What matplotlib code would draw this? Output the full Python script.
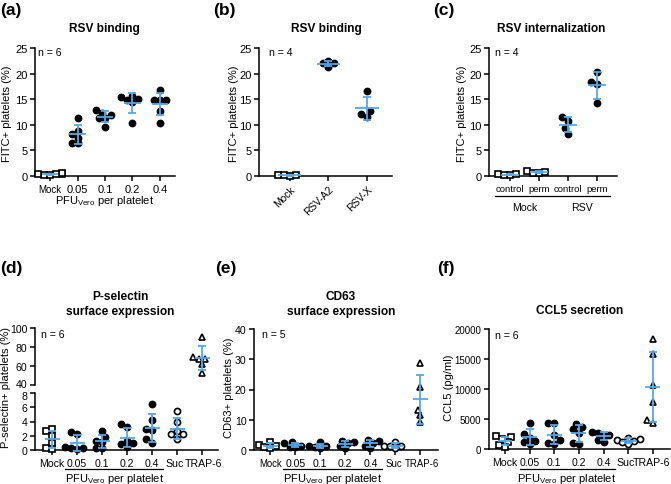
import numpy as np
import matplotlib
matplotlib.use('Agg')
import matplotlib.pyplot as plt
from matplotlib import transforms

plt.rcParams['font.family'] = ['Liberation Sans', 'DejaVu Sans']

W, H = 671, 485
BLUE = '#52a8ee'

# ---- data ----
a_groups = ['Mock', '0.05', '0.1', '0.2', '0.4']
a_values = [[0.2, 0.4, 0.3, 0.5, 0.1, 0.3],
            [11.3, 8.8, 8.3, 7.5, 6.5, 6.4],
            [12.9, 12.4, 12.0, 11.4, 11.4, 9.6],
            [15.4, 15.6, 15.0, 14.9, 14.4, 10.4],
            [16.8, 14.9, 14.8, 14.8, 12.6, 10.4]]

b_groups = ['Mock', 'RSV-A2', 'RSV-X']
b_values = [[0.1, 0.2, 0.1, 0.05],
            [21.3, 22.4, 22.0, 22.0],
            [16.6, 12.6, 11.6, 12.2]]

c_groups = ['control', 'perm', 'control', 'perm']
c_sets = ['Mock', 'RSV']
c_values = [[0.1, 0.3, 0.2, 0.4],
            [0.5, 0.8, 0.9, 0.6],
            [10.8, 11.6, 9.3, 8.3],
            [20.4, 18.3, 17.9, 14.2]]

act_groups = ['Mock', '0.05', '0.1', '0.2', '0.4', 'Suc', 'TRAP-6']
d_values = [[2.6, 3.0, 2.0, 1.0, 0.3, 0.2],
            [2.3, 2.5, 0.3, 0.4, 0.3, 0.2],
            [2.6, 1.8, 1.1, 1.2, 0.3, 0.3],
            [3.6, 3.2, 1.0, 1.3, 0.9, 0.4],
            [6.4, 4.2, 2.9, 2.8, 1.5, 1.0],
            [5.5, 3.9, 2.6, 2.2, 2.2, 1.6],
            [91, 70, 67, 67, 62, 52.5]]
e_values = [[2.8, 0.6, 1.4, 1.6, 1.0],
            [2.5, 2.4, 0.9, 0.9, 1.4],
            [2.6, 1.0, 0.6, 1.4, 1.2],
            [2.9, 2.5, 2.4, 0.6, 1.3],
            [3.4, 2.9, 2.4, 1.4, 0.8],
            [2.8, 1.4, 1.2, 1.4, 0.6],
            [28.8, 20.7, 13.2, 11.6, 9.2]]
f_values = [[2100, 2000, 1600, 1200, 600, 400],
            [4400, 2500, 1900, 1400, 1100, 800],
            [4300, 4400, 2300, 1500, 1000, 900],
            [4200, 3600, 3300, 2700, 1000, 900],
            [2900, 2600, 2300, 2200, 1500, 1100],
            [1900, 1700, 1500, 1400, 1100, 800],
            [18300, 15900, 10700, 7800, 4300, 4900]]

act_markers = ['s', 'o', 'o', 'o', 'o', 'o', '^']
act_filled = [False, True, True, True, True, False, False]
pfu_label = r'PFU$_{\mathregular{Vero}}$ per platelet'

fig = plt.figure(figsize=(W / 100, H / 100), dpi=100)


def px_axes(left, top, right, bottom):
    return fig.add_axes([left / W, 1 - bottom / H, (right - left) / W, (bottom - top) / H])


def ftext(x, y, s, **kw):
    fig.text(x / W, 1 - y / H, s, **kw)


def style(ax, bottom=True, size=8.0):
    ax.spines['top'].set_visible(False)
    ax.spines['right'].set_visible(False)
    ax.spines['left'].set_linewidth(1.1)
    ax.spines['bottom'].set_linewidth(1.1)
    if not bottom:
        ax.spines['bottom'].set_visible(False)
        ax.tick_params(axis='x', bottom=False, labelbottom=False)
    ax.tick_params(width=1.1, length=3.5, labelsize=size, pad=2)


def set_groups(ax, names, word_size=7.0, **kw):
    ax.set_xticks(range(len(names)))
    ax.set_xticklabels(names, **kw)
    # word labels look narrower than the numbers in the original
    for lab in ax.get_xticklabels():
        if not lab.get_text().replace('.', '').isdigit():
            lab.set_fontsize(word_size)


def nudge(label, dx_px=0, dy_px=0):
    label.set_transform(label.get_transform()
                        + transforms.ScaledTranslation(dx_px / 100, dy_px / 100, fig.dpi_scale_trans))


def swarm(ax, x0, vals, diam=5.8):
    # push overlapping points sideways, working in screen pixels
    tr = ax.transData.transform
    unit = tr((x0 + 1, 0))[0] - tr((x0, 0))[0]
    ys = np.array([tr((x0, v))[1] for v in vals])
    placed = []
    offs = np.zeros(len(vals))
    for i in np.argsort(ys):
        for k in [0, -0.5, 0.5, -1, 1, -1.5, 1.5, -2, 2]:
            dx = k * diam
            if all((dx - px) ** 2 + (ys[i] - py) ** 2 >= (diam * 0.95) ** 2 for px, py in placed):
                break
        placed.append((dx, ys[i]))
        offs[i] = dx / unit
    return x0 + offs


def draw_group(ax, x0, vals, marker='o', filled=True, half=0.3):
    xs = swarm(ax, x0, vals)
    ax.plot(xs, vals, ls='none', marker=marker, ms=4.4,
            mfc='black' if filled else 'white', mec='black', mew=1.2,
            zorder=3, clip_on=False)
    m = np.mean(vals)
    sd = np.std(vals, ddof=1)
    ax.errorbar([x0], [m], yerr=[sd], fmt='none', ecolor=BLUE, elinewidth=1.3,
                capsize=3.2, capthick=1.3, zorder=4, clip_on=False)
    ax.hlines(m, x0 - half, x0 + half, color=BLUE, lw=1.3, zorder=4)


def fig_line(ax, x1, x2, y_px):
    tr = transforms.blended_transform_factory(ax.transData, fig.transFigure)
    ax.plot([x1, x2], [1 - y_px / H] * 2, transform=tr, color='black', lw=0.9, clip_on=False)


def fig_label(ax, x, y_px, s, size=8.0):
    tr = transforms.blended_transform_factory(ax.transData, fig.transFigure)
    ax.text(x, 1 - y_px / H, s, transform=tr, ha='center', va='center', fontsize=size)


# ---- (a) RSV binding ----
ax = px_axes(35, 49, 175, 177)
style(ax)
ax.set_xlim(-0.55, 4.55)
ax.set_ylim(0, 25)
ax.set_yticks([0, 5, 10, 15, 20, 25])
set_groups(ax, a_groups)
for i, v in enumerate(a_values):
    draw_group(ax, i, v, marker='s' if i == 0 else 'o', filled=i != 0)
fig_label(ax, 2.0, 201, pfu_label)

# ---- (b) RSV binding, strains ----
ax = px_axes(259, 49, 392, 177)
style(ax)
ax.set_xlim(-0.8, 2.65)
ax.set_ylim(0, 25)
ax.set_yticks([0, 5, 10, 15, 20, 25])
set_groups(ax, b_groups, word_size=7.4, rotation=45, ha='right', rotation_mode='anchor')
for i, v in enumerate(b_values):
    draw_group(ax, i, v, marker='s' if i == 0 else 'o', filled=i != 0)

# ---- (c) RSV internalization ----
ax = px_axes(489, 49, 617, 177)
style(ax)
ax.set_xlim(-0.72, 3.69)
ax.set_ylim(0, 25)
ax.set_yticks([0, 5, 10, 15, 20, 25])
set_groups(ax, c_groups, word_size=6.8)
for i, v in enumerate(c_values):
    draw_group(ax, i, v, marker='s' if i < 2 else 'o', filled=i >= 2)
for j, name in enumerate(c_sets):
    fig_line(ax, 2 * j - 0.5, 2 * j + 1.45, 197)
    fig_label(ax, 2 * j + 0.5, 208, name, size=7.6)

# ---- (d) P-selectin, broken axis ----
xl = (-0.68, 6.64)
ax_t = px_axes(35, 329, 218, 386)
ax_b = px_axes(35, 394, 218, 451)
style(ax_t, bottom=False, size=7.6)
style(ax_b, size=7.6)
for a_ in (ax_t, ax_b):
    a_.set_xlim(*xl)
ax_t.set_ylim(40, 100)
ax_t.set_yticks([40, 60, 80, 100])
ax_b.set_ylim(0, 8)
ax_b.set_yticks([0, 2, 4, 6, 8])
set_groups(ax_b, act_groups, word_size=6.9)
ax_b.tick_params(axis='x', labelsize=7.6)
for i, v in enumerate(d_values):
    draw_group(ax_t if i == 6 else ax_b, i, v, act_markers[i], act_filled[i])
nudge(ax_t.get_yticklabels()[0], dy_px=1.5)
nudge(ax_b.get_yticklabels()[-1], dy_px=-1.5)
labs = ax_b.get_xticklabels()
nudge(labs[5], dx_px=-2)
nudge(labs[6], dx_px=1.5)
fig_line(ax_b, 0.5, 4.45, 470)
fig_label(ax_b, 2.5, 479, pfu_label)

# ---- (e) CD63 ----
ax = px_axes(254, 330, 438, 451)
style(ax, size=7.6)
ax.set_xlim(-0.65, 6.7)
ax.set_ylim(0, 40)
ax.set_yticks([0, 10, 20, 30, 40])
set_groups(ax, act_groups, word_size=6.9)
for i, v in enumerate(e_values):
    draw_group(ax, i, v, act_markers[i], act_filled[i])
labs = ax.get_xticklabels()
nudge(labs[5], dx_px=-2)
nudge(labs[6], dx_px=1.5)
fig_line(ax, 0.5, 4.45, 470)
fig_label(ax, 2.5, 479, pfu_label)

# ---- (f) CCL5 ----
ax = px_axes(489, 330, 670, 450)
style(ax, size=7.0)
ax.set_xlim(-0.65, 6.7)
ax.set_ylim(0, 20000)
ax.set_yticks([0, 5000, 10000, 15000, 20000])
set_groups(ax, act_groups, word_size=6.6)
ax.tick_params(axis='x', labelsize=7.6)
for i, v in enumerate(f_values):
    draw_group(ax, i, v, act_markers[i], act_filled[i])
labs = ax.get_xticklabels()
nudge(labs[5], dx_px=-3)
nudge(labs[6], dx_px=-1.5)
fig_line(ax, 0.6, 4.45, 470)
fig_label(ax, 2.5, 479, pfu_label)

# ---- titles, labels, n ----
tkw = dict(ha='center', va='center', fontsize=8.6, fontweight='bold')
ftext(104, 29, 'RSV binding', **tkw)
ftext(326, 29, 'RSV binding', **tkw)
ftext(551, 29, 'RSV internalization', **tkw)
ftext(120, 297, 'P-selectin', **tkw)
ftext(120, 312, 'surface expression', **tkw)
ftext(341, 297, 'CD63', **tkw)
ftext(341, 312, 'surface expression', **tkw)
ftext(580, 311, 'CCL5 secretion', **tkw)

pkw = dict(ha='left', va='center', fontsize=12.5, fontweight='bold')
for x, y, s in [(0, 10, '(a)'), (213, 10, '(b)'), (433, 10, '(c)'),
                (0, 268, '(d)'), (215, 268, '(e)'), (437, 268, '(f)')]:
    ftext(x, y, s, **pkw)

lkw = dict(ha='center', va='center', rotation=90, fontsize=8.0)
ftext(7, 114, 'FITC+ platelets (%)', **lkw)
ftext(234, 114, 'FITC+ platelets (%)', **lkw)
ftext(462, 114, 'FITC+ platelets (%)', **lkw)
ftext(6, 388, 'P-selectin+ platelets (%)', **lkw)
ftext(229, 388, 'CD63+ platelets (%)', **lkw)
ftext(449, 388, 'CCL5 (pg/ml)', **lkw)

nkw = dict(ha='left', va='center', fontsize=7.6)
ftext(38, 53, 'n = 6', **nkw)
ftext(269, 53, 'n = 4', **nkw)
ftext(495, 53, 'n = 4', **nkw)
ftext(41, 335, 'n = 6', **nkw)
ftext(262, 335, 'n = 5', **nkw)
ftext(495, 336, 'n = 6', **nkw)

fig.savefig('out.png', dpi=100)
